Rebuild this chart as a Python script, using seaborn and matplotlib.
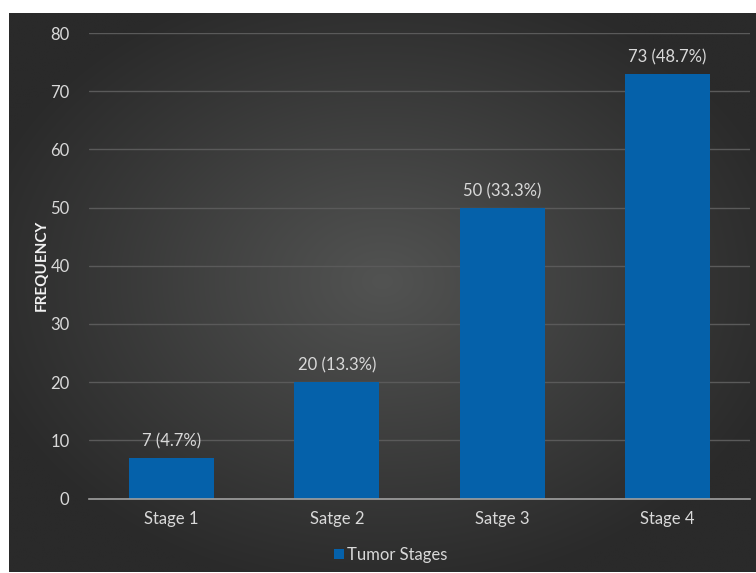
import numpy as np
import matplotlib
matplotlib.use("Agg")
import matplotlib.pyplot as plt
import seaborn as sns
import pandas as pd

categories = ["Stage 1", "Satge 2", "Satge 3", "Stage 4"]
counts = [7, 20, 50, 73]
percents = ["4.7%", "13.3%", "33.3%", "48.7%"]
series_name = "Tumor Stages"

sns.set_theme(style="dark")
plt.rcParams['font.family'] = ['Lato', 'DejaVu Sans']

W, H = 756, 573
fig = plt.figure(figsize=(W/100, H/100), dpi=100)
fig.patch.set_facecolor("white")

# gradient background panel
bg = fig.add_axes([9/W, 1/H, (W-9)/W, (H-14)/H])
yy, xx = np.mgrid[0:1:300j, 0:1:400j]
r = np.sqrt(((xx-0.5)/0.75)**2 + ((yy-0.48)/0.75)**2)
r = np.clip(r/0.75, 0, 1)
c0 = np.array([0x52, 0x53, 0x52])/255
c1 = np.array([0x2a, 0x2a, 0x2a])/255
img = c0[None, None, :]*(1-r[..., None]) + c1[None, None, :]*r[..., None]
bg.imshow(img, aspect="auto", extent=[0, 1, 0, 1], interpolation="bilinear")
bg.set_axis_off()

ax = fig.add_axes([89/W, (H-498.5)/H, 661/W, (498.5-33)/H])
ax.set_facecolor("none")
df = pd.DataFrame({"Stage": categories, "Frequency": counts})
sns.barplot(data=df, x="Stage", y="Frequency", color="#0561AA", width=0.515,
            saturation=1, ax=ax, label=series_name, zorder=3,
            edgecolor="none", linewidth=0)

ax.set_ylim(0, 80)
ax.set_yticks(range(0, 81, 10))
ax.set_xlim(-0.5, 3.5)
ax.grid(axis="y", color="#5a5a5a", linewidth=1, zorder=0)
ax.grid(axis="x", visible=False)
for s in ["top", "right", "left"]:
    ax.spines[s].set_visible(False)
ax.spines["bottom"].set_color("#a0a0a0")
ax.spines["bottom"].set_linewidth(1.2)
ax.spines["bottom"].set_zorder(4)
ax.tick_params(axis="both", colors="#d9d9d9", labelsize=12, length=0)
ax.tick_params(axis="y", pad=14)
ax.tick_params(axis="x", pad=9)
ax.set_xlabel("")
ax.set_ylabel("FREQUENCY", color="#f2f2f2", fontsize=11, fontweight="bold", labelpad=1)

for i, (v, p) in enumerate(zip(counts, percents)):
    ax.annotate(f"{v} ({p})", (i, v), xytext=(0, 6), textcoords="offset points",
                ha="center", va="bottom", color="#d9d9d9", fontsize=12)

leg = ax.legend(loc="upper center", bbox_to_anchor=(0.456, -0.072), frameon=False,
                fontsize=12, handlelength=0.6, handleheight=0.6, handletextpad=0.2)
for t in leg.get_texts():
    t.set_color("#d9d9d9")
for h in leg.legend_handles:
    h.set_edgecolor("none")

fig.savefig("out.png", dpi=100)
